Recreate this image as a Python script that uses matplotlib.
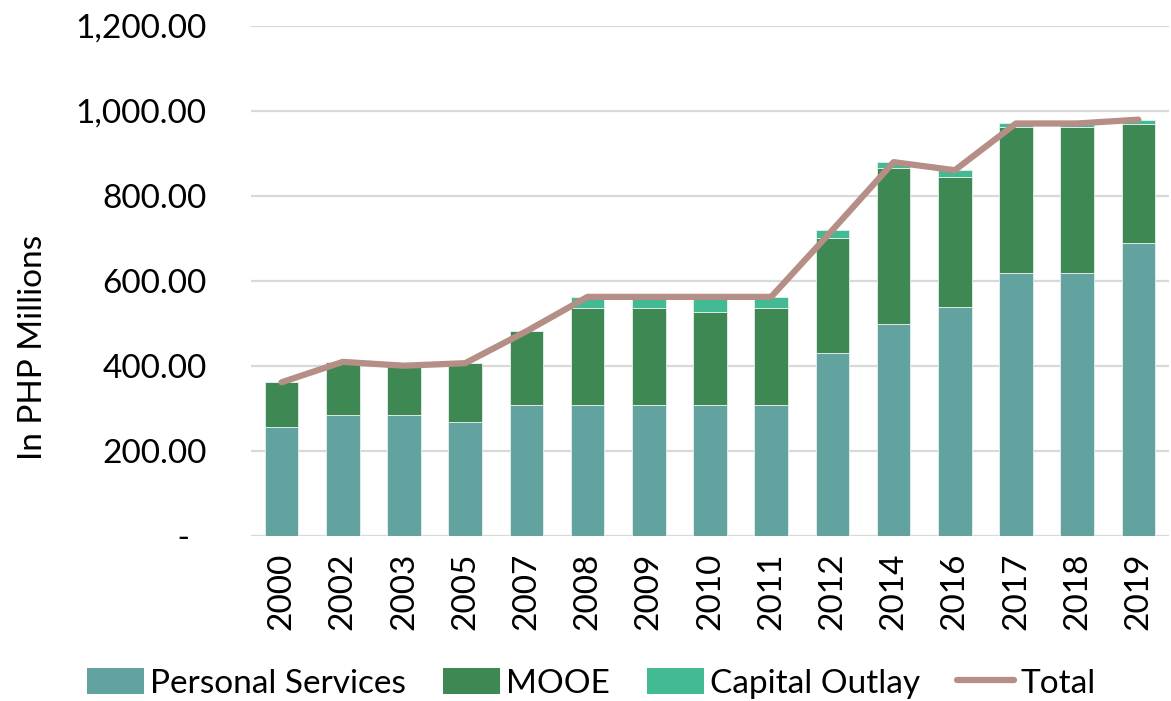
import matplotlib
matplotlib.use("Agg")
import matplotlib.pyplot as plt
import numpy as np
from matplotlib.ticker import FuncFormatter
from matplotlib.patches import Patch
from matplotlib.lines import Line2D

# budget by expense class, PHP millions
years = ["2000", "2002", "2003", "2005", "2007", "2008", "2009", "2010",
         "2011", "2012", "2014", "2016", "2017", "2018", "2019"]
personal_services = [256, 283, 283, 267, 307, 307, 307, 307, 307, 430, 498, 538, 619, 619, 688]
mooe = [105, 126, 117, 139, 174, 229, 229, 219, 229, 271, 367, 307, 343, 343, 280]
capital_outlay = [0, 0, 0, 0, 0, 26, 26, 36, 26, 18, 14, 15, 8, 8, 11]

ps = np.array(personal_services)
mo = np.array(mooe)
co = np.array(capital_outlay)
total = ps + mo + co

C_PS = "#62A39F"
C_MOOE = "#3E8853"
C_CO = "#43B994"
C_TOTAL = "#B58E86"

plt.rcParams["font.family"] = ["Lato", "DejaVu Sans"]
FS = 24

fig = plt.figure(figsize=(11.71, 7.01), dpi=100)
ax = fig.add_axes([0.2143, 0.2358, 0.784, 0.7275])

x = np.arange(len(years))
w = 0.55
edge = dict(edgecolor="#E8F0EE", linewidth=0.6)
ax.bar(x, ps, w, color=C_PS, zorder=2, **edge)
ax.bar(x, mo, w, bottom=ps, color=C_MOOE, zorder=2, **edge)
ax.bar(x, co, w, bottom=ps + mo, color=C_CO, zorder=2, **edge)
ax.plot(x, total, color=C_TOTAL, linewidth=4.5, solid_capstyle="round", zorder=3)

ax.set_xlim(-0.5, len(years) - 0.5)
ax.set_ylim(0, 1200)
ax.set_yticks(np.arange(0, 1201, 200))
ax.yaxis.set_major_formatter(FuncFormatter(lambda v, p: " -  " if v == 0 else f"{v:,.2f}"))
ax.grid(axis="y", color="#D9D9D9", linewidth=1.6, zorder=0)
ax.set_axisbelow(True)
for s in ax.spines.values():
    s.set_visible(False)

ax.set_xticks(x)
ax.set_xticklabels(years, rotation=90, fontsize=FS)
ax.tick_params(axis="x", length=0, pad=12)
ax.tick_params(axis="y", length=0, pad=32, labelsize=FS)
ax.set_ylabel("In PHP Millions", fontsize=FS)
ax.yaxis.set_label_coords(-0.221, 0.37)

handles = [
    Patch(facecolor=C_PS, label="Personal Services"),
    Patch(facecolor=C_MOOE, label="MOOE"),
    Patch(facecolor=C_CO, label="Capital Outlay"),
    Line2D([], [], color=C_TOTAL, linewidth=4.5, solid_capstyle="round", label="Total"),
]
fig.legend(handles=handles, loc="center", bbox_to_anchor=(0.505, 0.025), ncol=4,
           frameon=False, fontsize=FS, handlelength=1.7, handleheight=0.8,
           handletextpad=0.2, columnspacing=1.1)

fig.savefig("out.png", dpi=100)
